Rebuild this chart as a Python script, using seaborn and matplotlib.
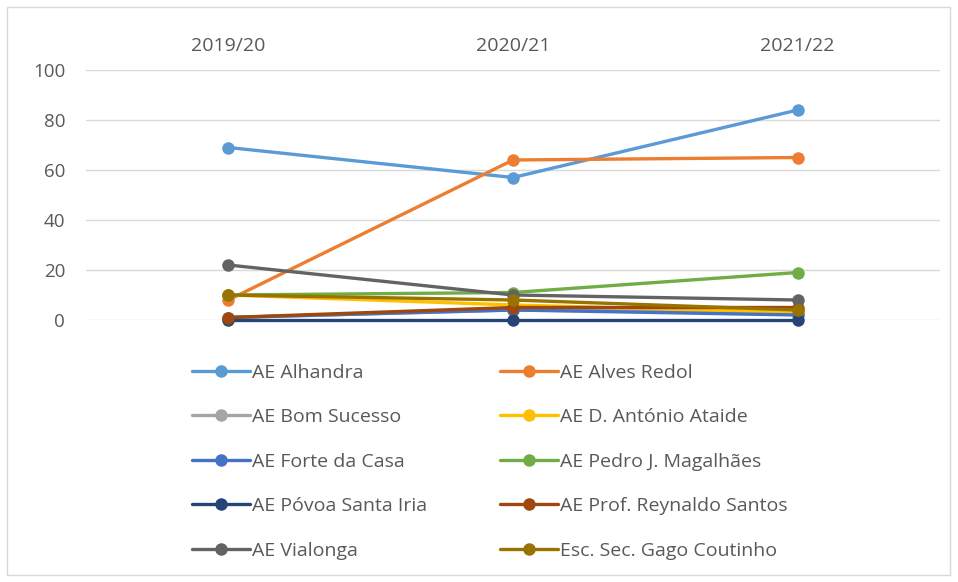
import matplotlib
matplotlib.use("Agg")
import matplotlib.pyplot as plt
from matplotlib.patches import Rectangle
import pandas as pd
import seaborn as sns

anos = ["2019/20", "2020/21", "2021/22"]
escolas = [
    "AE Alhandra",
    "AE Alves Redol",
    "AE Bom Sucesso",
    "AE D. António Ataide",
    "AE Forte da Casa",
    "AE Pedro J. Magalhães",
    "AE Póvoa Santa Iria",
    "AE Prof. Reynaldo Santos",
    "AE Vialonga",
    "Esc. Sec. Gago Coutinho",
]
alhandra = [69, 57, 84]
alves_redol = [8, 64, 65]
bom_sucesso = [1, 4, 3]
antonio_ataide = [10, 6, 3]
forte_da_casa = [1, 4, 2]
pedro_magalhaes = [10, 11, 19]
povoa_santa_iria = [0, 0, 0]
reynaldo_santos = [1, 5, 5]
vialonga = [22, 10, 8]
gago_coutinho = [10, 8, 4]
valores = [alhandra, alves_redol, bom_sucesso, antonio_ataide, forte_da_casa,
           pedro_magalhaes, povoa_santa_iria, reynaldo_santos, vialonga, gago_coutinho]
cores = ["#5B9BD5", "#ED7D31", "#A5A5A5", "#FFC000", "#4472C4",
         "#70AD47", "#264478", "#9E480E", "#636363", "#997300"]

df = pd.DataFrame(
    [(e, a, v) for e, serie in zip(escolas, valores) for a, v in zip(anos, serie)],
    columns=["escola", "ano", "valor"],
)

sns.set_style("white")
plt.rcParams["font.family"] = ["Open Sans", "DejaVu Sans"]

fig = plt.figure(figsize=(9.58, 5.82), dpi=100)
ax = fig.add_axes([86 / 958, 1 - 320 / 582, (940 - 86) / 958, 250 / 582])

sns.lineplot(data=df, x="ano", y="valor", hue="escola", hue_order=escolas,
             palette=dict(zip(escolas, cores)), marker="o", markersize=9,
             markeredgewidth=0, linewidth=2.4, sort=False, ax=ax)
for line in ax.lines:
    line.set_clip_on(False)

ax.set_xlim(-0.5, 2.5)
ax.set_ylim(0, 100)
ax.set_yticks(range(0, 101, 20))
ax.grid(axis="y", color="#D9D9D9", linewidth=1)
ax.set_axisbelow(True)
for s in ax.spines.values():
    s.set_visible(False)
ax.xaxis.tick_top()
ax.tick_params(axis="x", length=0, pad=11, labelsize=14, labelcolor="#595959")
ax.tick_params(axis="y", length=0, pad=15, labelsize=13.5, labelcolor="#595959")
ax.set_xlabel("")
ax.set_ylabel("")

handles, labels = ax.get_legend_handles_labels()
ax.get_legend().remove()
for col, x0 in [(0, 184), (1, 492)]:
    fig.legend(handles[col::2], labels[col::2], loc="upper left",
               bbox_to_anchor=(x0 / 958, 1 - 356 / 582), frameon=False,
               fontsize=14, labelcolor="#595959", handlelength=3.0,
               handletextpad=0.1, labelspacing=1.36, borderaxespad=0)

fig.patches.append(Rectangle((7 / 958, 7 / 582), 943 / 958, 568 / 582,
                             transform=fig.transFigure, fill=False,
                             edgecolor="#D9D9D9", linewidth=1))

fig.savefig("out.png", dpi=100)
